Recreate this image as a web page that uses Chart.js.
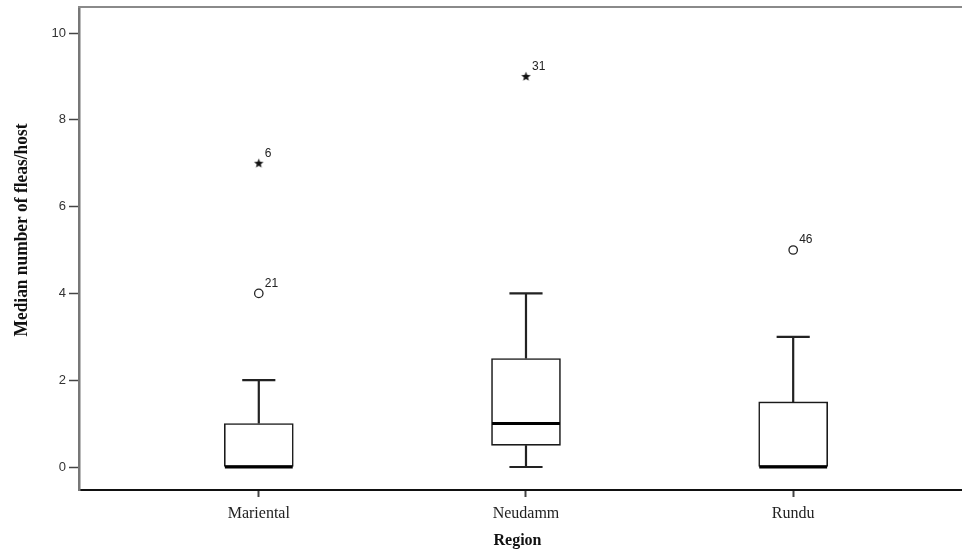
<!DOCTYPE html>
<html>
<head>
<meta charset="utf-8">
<script src="https://cdn.jsdelivr.net/npm/chart.js@4/dist/chart.umd.min.js"></script>
<style>
html,body{margin:0;padding:0;background:#fff;}
#wrap{width:962px;height:554px;}
</style>
</head>
<body>
<div id="wrap"><canvas id="c" width="962" height="554"></canvas></div>
<script>
// ---- data ----
const regions = ['Mariental', 'Neudamm', 'Rundu'];
const whiskerLow  = [0, 0, 0];
const quartile1   = [0, 0.5, 0];
const medians     = [0, 1, 0];
const quartile3   = [1, 2.5, 1.5];
const whiskerHigh = [2, 4, 3];
// outliers (circles)
const outlierRegion = [0, 2];
const outlierValue  = [4, 5];
const outlierCase   = ['21', '46'];
// extreme values (stars)
const extremeRegion = [0, 1];
const extremeValue  = [7, 9];
const extremeCase   = ['6', '31'];
const yTickValues = [0, 2, 4, 6, 8, 10];
const yTitle = 'Median number of fleas/host';
const xTitle = 'Region';

// ---- build library structures ----
const pos = i => i + 1;
const boxData = regions.map((r, i) => ({x: pos(i), y: [quartile1[i], quartile3[i]]}));
const whiskerData = [];
const capData = [];
const medianData = [];
const capHalf = 0.062, boxHalf = 0.127;
regions.forEach((r, i) => {
  const x = pos(i);
  whiskerData.push({x, y: quartile3[i]}, {x, y: whiskerHigh[i]}, {x, y: null});
  whiskerData.push({x, y: whiskerLow[i]}, {x, y: quartile1[i]}, {x, y: null});
  capData.push({x: x - capHalf, y: whiskerHigh[i]}, {x: x + capHalf, y: whiskerHigh[i]}, {x, y: null});
  capData.push({x: x - capHalf, y: whiskerLow[i]}, {x: x + capHalf, y: whiskerLow[i]}, {x, y: null});
  medianData.push({x: x - boxHalf, y: medians[i]}, {x: x + boxHalf, y: medians[i]}, {x, y: null});
});
const outlierData = outlierRegion.map((r, k) => ({x: pos(r), y: outlierValue[k], id: outlierCase[k]}));
const extremeData = extremeRegion.map((r, k) => ({x: pos(r), y: extremeValue[k], id: extremeCase[k]}));

// star marker
const star = document.createElement('canvas');
star.width = 11; star.height = 11;
(function () {
  const g = star.getContext('2d');
  g.fillStyle = '#111';
  g.beginPath();
  for (let k = 0; k < 10; k++) {
    const r = k % 2 === 0 ? 5 : 2.1;
    const a = -Math.PI / 2 + k * Math.PI / 5;
    const px = 5.5 + r * Math.cos(a), py = 5.8 + r * Math.sin(a);
    k === 0 ? g.moveTo(px, py) : g.lineTo(px, py);
  }
  g.closePath();
  g.fill();
})();

const framePlugin = {
  id: 'frame',
  afterDraw(chart) {
    const {ctx, chartArea} = chart;
    ctx.save();
    ctx.strokeStyle = '#8a8a8a';
    ctx.lineWidth = 2;
    ctx.beginPath();
    ctx.moveTo(chartArea.left - 1, chartArea.top);
    ctx.lineTo(chart.width, chartArea.top);
    ctx.stroke();
    // continue the bottom axis line to the edge of the picture
    ctx.strokeStyle = '#111';
    ctx.beginPath();
    ctx.moveTo(chartArea.right - 2, Math.round(chartArea.bottom));
    ctx.lineTo(chart.width, Math.round(chartArea.bottom));
    ctx.stroke();
    // y-axis title (condensed serif like the original)
    ctx.translate(22, 230);
    ctx.rotate(-Math.PI / 2);
    ctx.scale(0.915, 1);
    ctx.font = 'bold 19px "Liberation Serif", "Times New Roman", serif';
    ctx.fillStyle = '#111';
    ctx.textAlign = 'center';
    ctx.textBaseline = 'middle';
    ctx.fillText(yTitle, 0, 0);
    ctx.restore();
  },
  afterDatasetsDraw(chart) {
    const {ctx} = chart;
    ctx.save();
    ctx.font = '12px "Liberation Sans", Arial, sans-serif';
    ctx.fillStyle = '#222';
    ctx.textAlign = 'left';
    ctx.textBaseline = 'middle';
    chart.data.datasets.forEach((ds, di) => {
      if (!ds.caseLabels) return;
      const meta = chart.getDatasetMeta(di);
      meta.data.forEach((pt, j) => {
        ctx.fillText(ds.data[j].id, pt.x + 6, pt.y - 10);
      });
    });
    ctx.restore();
  }
};

new Chart(document.getElementById('c'), {
  type: 'bar',
  data: {
    datasets: [
      {type: 'bar', data: boxData, backgroundColor: '#ffffff', borderColor: '#1a1a1a', borderWidth: 1.6,
       borderSkipped: false, barThickness: 69, grouped: false, order: 5},
      {type: 'line', data: whiskerData, borderColor: '#222', borderWidth: 2.2, pointRadius: 0, spanGaps: false, order: 6},
      {type: 'line', data: capData, borderColor: '#222', borderWidth: 2.2, pointRadius: 0, spanGaps: false, order: 4},
      {type: 'line', data: medianData, borderColor: '#000', borderWidth: 3, pointRadius: 0, spanGaps: false, order: 3},
      {type: 'scatter', data: outlierData, pointStyle: 'circle', pointRadius: 4.2, borderColor: '#222',
       backgroundColor: '#fff', borderWidth: 1.3, caseLabels: true, order: 2},
      {type: 'scatter', data: extremeData, pointStyle: star, pointRadius: 5, caseLabels: true, order: 1}
    ]
  },
  options: {
    responsive: false,
    animation: false,
    devicePixelRatio: 1,
    events: [],
    layout: {padding: {top: 7, right: 0, left: 0, bottom: 0}},
    plugins: {legend: {display: false}, tooltip: {enabled: false}},
    scales: {
      x: {
        type: 'linear',
        offset: false,
        min: 1 - 180 / 267.5,
        max: 1 + 698 / 267.5,
        afterBuildTicks(s) { s.ticks = regions.map((r, i) => ({value: pos(i)})); },
        afterFit(s) { s.height = 64; },
        ticks: {
          callback: v => regions[v - 1],
          font: {family: '"Liberation Serif", "Times New Roman", serif', size: 16},
          color: '#222', padding: 7, maxRotation: 0, autoSkip: false
        },
        grid: {offset: false, drawOnChartArea: false, drawTicks: true, tickLength: 7, color: '#444', tickWidth: 2},
        border: {display: true, color: '#111', width: 2},
        title: {display: true, text: xTitle, color: '#111', padding: {top: 4},
                font: {family: '"Liberation Serif", "Times New Roman", serif', size: 16, weight: 'bold'}}
      },
      y: {
        type: 'linear',
        min: -0.53,
        max: 10.6,
        afterBuildTicks(s) { s.ticks = yTickValues.map(v => ({value: v})); },
        afterFit(s) { s.width = 79; s.paddingTop = 0; s.paddingBottom = 0; },
        ticks: {
          font: {family: '"Liberation Sans", Arial, sans-serif', size: 13},
          color: '#333', padding: 3
        },
        grid: {drawOnChartArea: false, drawTicks: true, tickLength: 10, color: '#444', tickWidth: 1.5},
        border: {display: true, color: '#777', width: 2.5},
        title: {display: false}
      }
    }
  },
  plugins: [framePlugin]
});
</script>
</body>
</html>
